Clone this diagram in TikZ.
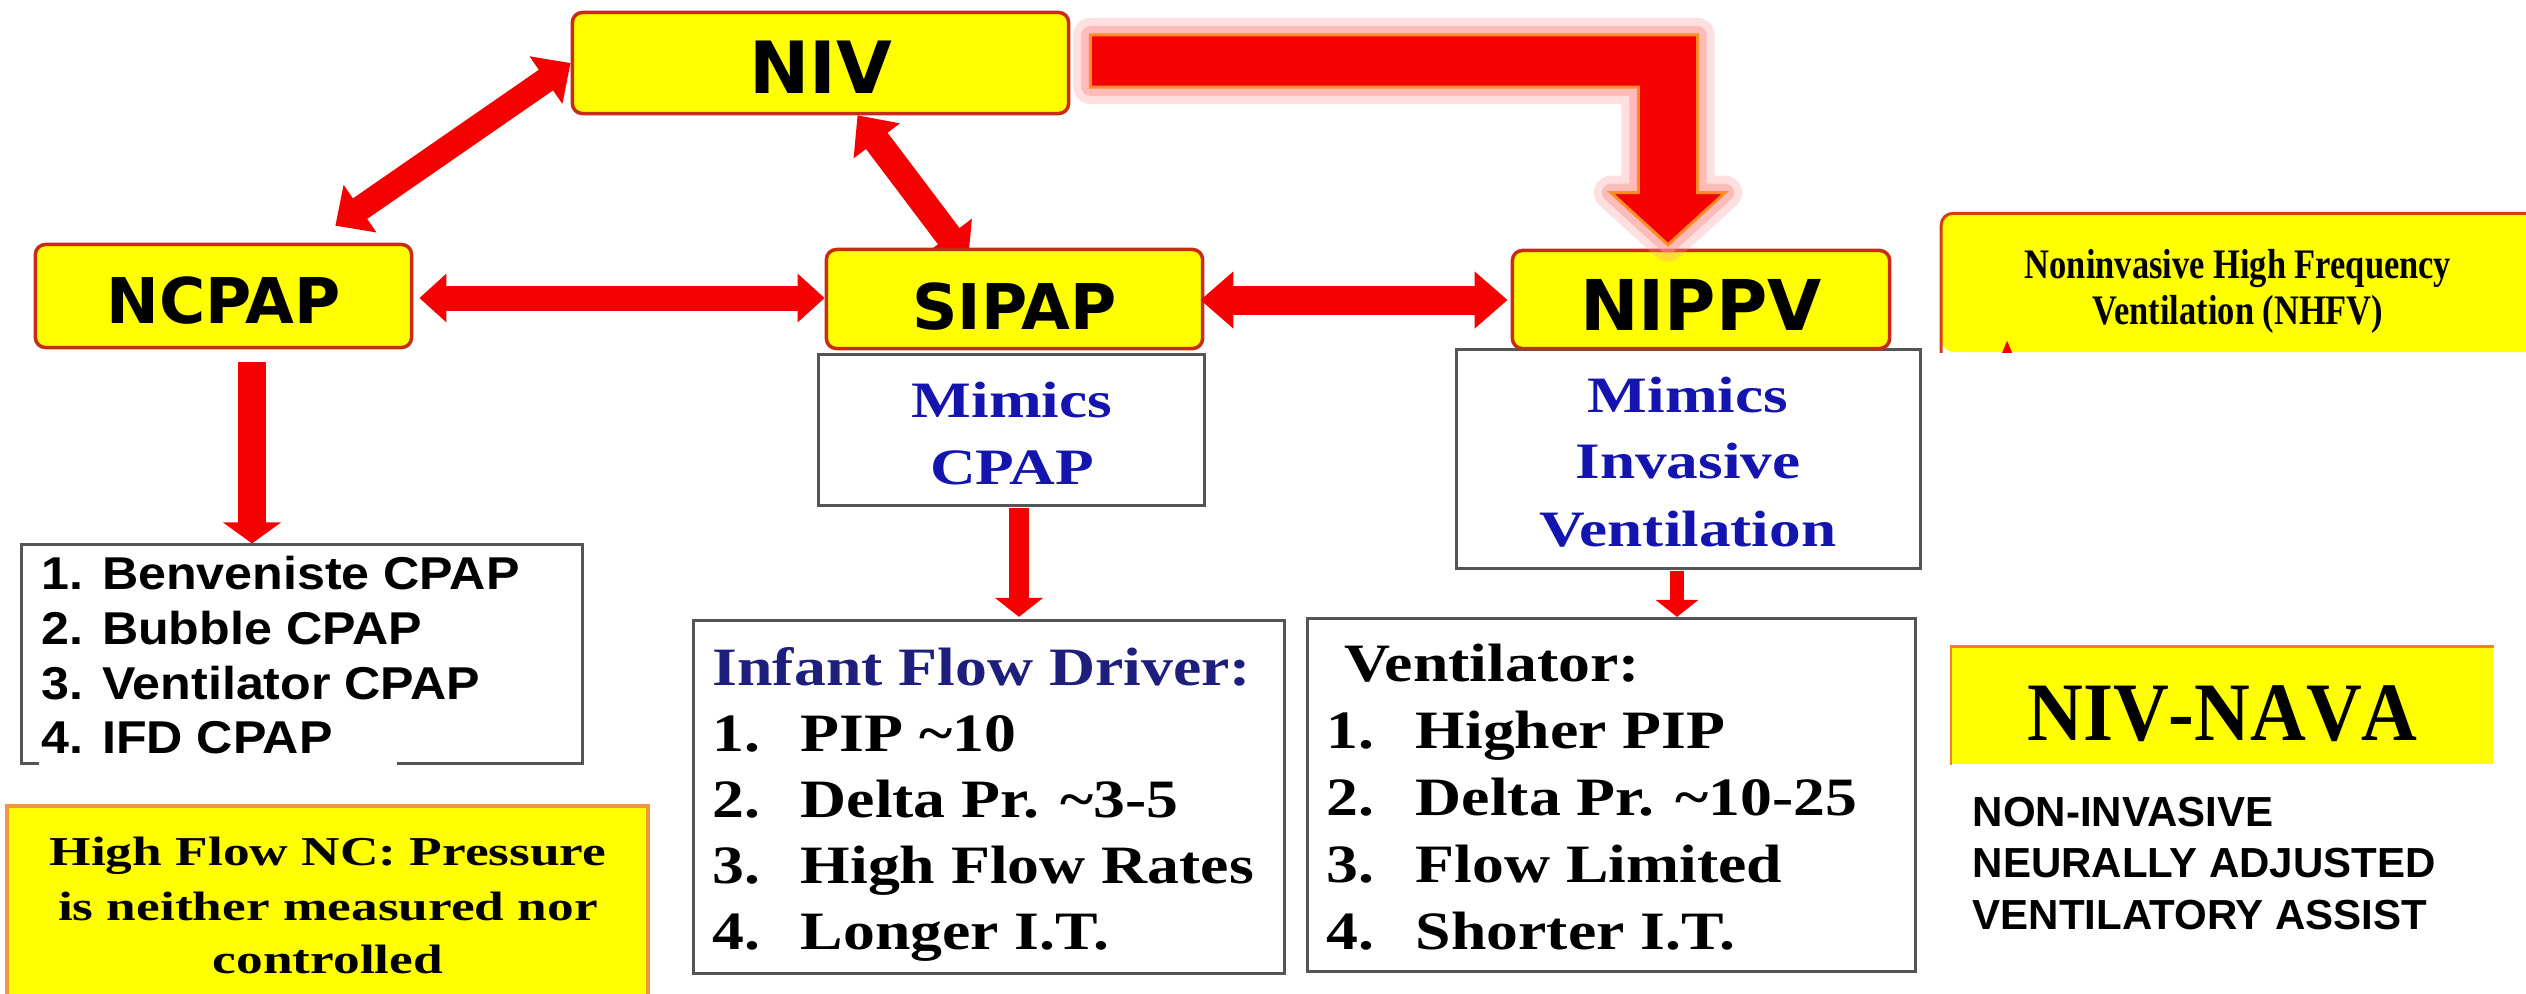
\documentclass[tikz,border=0pt]{standalone}
\usepackage{fontspec}
\setmainfont{Liberation Serif}
\newfontfamily\boxfont{DejaVu Sans}
\newfontfamily\serifwide[FakeStretch=1.18]{Liberation Serif}
\newfontfamily\serifmimic[FakeStretch=1.24]{Liberation Serif}
\newfontfamily\serifhf[FakeStretch=1.30]{Liberation Serif}
\newfontfamily\serifnarrow[FakeStretch=0.82]{Liberation Serif}
\newfontfamily\serifnava[FakeStretch=0.93,Kerning=Off]{Liberation Serif}
\newfontfamily\arialfont[FakeStretch=1.09]{Liberation Sans}
\newfontfamily\arialplain{Liberation Sans}
\usetikzlibrary{arrows.meta,calc}
\pgfdeclarelayer{behind}
\pgfsetlayers{behind,main}

\definecolor{boxyellow}{RGB}{255,255,0}
\definecolor{boxborder}{RGB}{200,45,20}
\definecolor{arrowred}{RGB}{245,0,0}
\definecolor{mimicblue}{RGB}{20,20,175}
\definecolor{navytext}{RGB}{30,30,125}
\definecolor{grayborder}{RGB}{85,85,85}
\definecolor{hfborder}{RGB}{240,150,60}
\definecolor{nhfvborder}{RGB}{215,60,20}
\definecolor{navaborder}{RGB}{240,130,40}
\definecolor{glowpink}{RGB}{255,150,150}
\definecolor{edgeorange}{RGB}{255,140,40}

\newcommand\fBoxNIV{\boxfont\bfseries\fontsize{20.49pt}{24pt}\selectfont}
\newcommand\fBoxMid{\boxfont\bfseries\fontsize{17.93pt}{21pt}\selectfont}
\newcommand\fBoxNIPPV{\boxfont\bfseries\fontsize{19.92pt}{23pt}\selectfont}
\newcommand\fMimic{\serifmimic\bfseries\fontsize{14.51pt}{17pt}\selectfont}
\newcommand\fListSerif{\serifwide\bfseries\fontsize{15.36pt}{18pt}\selectfont}
\newcommand\fHighFlow{\serifhf\bfseries\fontsize{11.67pt}{14pt}\selectfont}
\newcommand\fNHFV{\serifnarrow\bfseries\fontsize{11.95pt}{14pt}\selectfont}
\newcommand\fNAVA{\serifnava\bfseries\fontsize{23.62pt}{28pt}\selectfont}
\newcommand\fListSans{\arialfont\bfseries\fontsize{13.09pt}{16pt}\selectfont}
\newcommand\fNonInv{\arialplain\bfseries\fontsize{11.95pt}{14pt}\selectfont}

\newcommand\elbowpath{let \p1=(elbowstart), \p2=(elbowtip) in
  (\x1,\y1+0.26cm) -- (\x2+0.295cm,\y1+0.26cm) -- (\x2+0.295cm,\y2+0.52cm)
  -- (\x2+0.57cm,\y2+0.52cm) -- (\x2,\y2) -- (\x2-0.57cm,\y2+0.52cm)
  -- (\x2-0.295cm,\y2+0.52cm) -- (\x2-0.295cm,\y1-0.26cm) -- (\x1,\y1-0.26cm) -- cycle}

\tikzset{
  ybox/.style={draw=boxborder, line width=0.035cm, fill=boxyellow, rounded corners=0.1cm, inner sep=0pt, text depth=0pt},
  wbox/.style={draw=grayborder, line width=0.03cm, fill=white, inner sep=0pt},
  txt/.style={inner sep=0pt},
  biarrow/.style n args={3}{draw=arrowred, line width=#1, {Triangle[length=#2,width=#3]}-{Triangle[length=#2,width=#3]}},
  downarrow/.style n args={3}{draw=arrowred, line width=#1, -{Triangle[length=#2,width=#3]}}
}

\begin{document}
\begin{tikzpicture}[x=0.01cm,y=-0.01cm]
\useasboundingbox (0,0) rectangle (2526,993);
\begin{pgfonlayer}{behind}
\fill[white] (0,0) rectangle (2526,993);
\end{pgfonlayer}

% white boxes
\node[wbox, minimum width=3.86cm, minimum height=1.51cm] (mcpap) at (1011.5,430) {};
\node[wbox, minimum width=4.64cm, minimum height=2.19cm] (minv) at (1688.5,459) {};
\node[wbox, minimum width=5.61cm, minimum height=2.18cm] (list) at (302,654) {};
\fill[white] (39,547) rectangle (397,768);
\node[wbox, minimum width=5.91cm, minimum height=3.53cm] (ifd) at (989,797) {};
\node[wbox, minimum width=6.08cm, minimum height=3.53cm] (vent) at (1611.5,795) {};

% yellow boxes
\node[ybox, minimum width=4.96cm, minimum height=1.01cm, text height=0.605cm, font=\fBoxNIV] (niv) at (820.5,63) {NIV};
\node[ybox, minimum width=3.76cm, minimum height=1.03cm, text height=0.54cm, font=\fBoxMid] (ncpap) at (223.5,296) {NCPAP};
\node[ybox, minimum width=3.76cm, minimum height=0.99cm, text height=0.60cm, font=\fBoxMid] (sipap) at (1014.5,299) {SIPAP};
\node[ybox, minimum width=3.77cm, minimum height=0.98cm, text height=0.62cm, font=\fBoxNIPPV] (nippv) at (1701,299.5) {NIPPV};

% NHFV box
\node[fill=boxyellow, rounded corners=0.12cm, minimum width=6.2cm, minimum height=1.38cm, inner sep=0pt] (nhfv) at (2252,283) {};
\draw[nhfvborder, line width=0.03cm, rounded corners=0.12cm] (nhfv.south west) -- (nhfv.north west) -- (nhfv.north east);
\fill[arrowred] ([shift={(61,0)}]nhfv.south west) -- ([shift={(66,-12)}]nhfv.south west) -- ([shift={(71,0)}]nhfv.south west) -- cycle;

% NIV-NAVA box
\node[fill=boxyellow, inner sep=0pt, minimum width=5.41cm, minimum height=1.17cm, text height=0.69cm, text depth=0pt, font=\fNAVA] (nava) at (2222.5,705.5) {NIV-NAVA};
\draw[navaborder, line width=0.025cm] (nava.south west) -- (nava.north west) -- (nava.north east);

% High flow box
\node[fill=boxyellow, draw=hfborder, line width=0.04cm, inner sep=0pt, minimum width=6.41cm, minimum height=2.0cm] (hf) at (327.5,906) {};

% elbow arrow NIV -> NIPPV
\coordinate (elbowstart) at ([shift={(20,-2)}]niv.east);
\coordinate (elbowtip) at ([shift={(-33,-4)}]nippv.north);
\draw[glowpink, opacity=0.3, line width=0.34cm, line join=round] \elbowpath;
\draw[glowpink, opacity=0.5, line width=0.18cm, line join=round] \elbowpath;
\filldraw[fill=arrowred, draw=edgeorange, line width=0.03cm] \elbowpath;

% double arrows
\draw[biarrow={0.25cm}{0.30cm}{0.56cm}] (niv.west) -- ([shift={(-78,-17)}]ncpap.north east);
\begin{pgfonlayer}{behind}
\draw[biarrow={0.27cm}{0.32cm}{0.56cm}] ([shift={(37,0)}]niv.south) -- ([shift={(-46.5,14)}]sipap.north);
\end{pgfonlayer}
\draw[biarrow={0.25cm}{0.27cm}{0.47cm}] ([shift={(6,2)}]ncpap.east) -- ([shift={(0,-1)}]sipap.west);
\draw[biarrow={0.29cm}{0.33cm}{0.55cm}] ([shift={(-4,1)}]sipap.east) -- ([shift={(-3,0.5)}]nippv.west);

% down arrows
\draw[downarrow={0.27cm}{0.21cm}{0.57cm}] ([shift={(28.5,13)}]ncpap.south) -- ([shift={(-50,0)}]list.north);
\draw[downarrow={0.20cm}{0.19cm}{0.47cm}] ([shift={(7.5,1)}]mcpap.south) -- ([shift={(30,-2)}]ifd.north);
\draw[downarrow={0.14cm}{0.17cm}{0.42cm}] ([shift={(-11.5,1)}]minv.south) -- ([shift={(65.5,0)}]vent.north);

% Mimics texts
\node[txt, anchor=base, text=mimicblue, font=\fMimic] (mc1) at (1012,417) {Mimics};
\node[txt, anchor=base, text=mimicblue, font=\fMimic] (mc2) at (1012,484) {CPAP};
\node[txt, anchor=base, text=mimicblue, font=\fMimic] (mi1) at (1688,412) {Mimics};
\node[txt, anchor=base, text=mimicblue, font=\fMimic] (mi2) at (1688,478) {Invasive};
\node[txt, anchor=base, text=mimicblue, font=\fMimic] (mi3) at (1688,546) {Ventilation};

% Infant Flow Driver list
\node[txt, anchor=base west, text=navytext, font=\fListSerif] (ifd0) at (712,685) {Infant Flow Driver:};
\node[txt, anchor=base west, font=\fListSerif] (ifd1) at (712,751) {\makebox[0.88cm][l]{1.}PIP \textasciitilde10};
\node[txt, anchor=base west, font=\fListSerif] (ifd2) at (712,817) {\makebox[0.88cm][l]{2.}Delta Pr. \textasciitilde3-5};
\node[txt, anchor=base west, font=\fListSerif] (ifd3) at (712,883) {\makebox[0.88cm][l]{3.}High Flow Rates};
\node[txt, anchor=base west, font=\fListSerif] (ifd4) at (712,949) {\makebox[0.88cm][l]{4.}Longer I.T.};

% Ventilator list
\node[txt, anchor=base west, font=\fListSerif] (v0) at (1344,681) {Ventilator:};
\node[txt, anchor=base west, font=\fListSerif] (v1) at (1326,748) {\makebox[0.89cm][l]{1.}Higher PIP};
\node[txt, anchor=base west, font=\fListSerif] (v2) at (1326,815) {\makebox[0.89cm][l]{2.}Delta Pr. \textasciitilde10-25};
\node[txt, anchor=base west, font=\fListSerif] (v3) at (1326,882) {\makebox[0.89cm][l]{3.}Flow Limited};
\node[txt, anchor=base west, font=\fListSerif] (v4) at (1326,949) {\makebox[0.89cm][l]{4.}Shorter I.T.};

% NCPAP list
\node[txt, anchor=base west, font=\fListSans] (c1) at (41,589) {1. Benveniste CPAP};
\node[txt, anchor=base west, font=\fListSans] (c2) at (41,644) {2. Bubble CPAP};
\node[txt, anchor=base west, font=\fListSans] (c3) at (41,699) {3. Ventilator CPAP};
\node[txt, anchor=base west, font=\fListSans] (c4) at (41,753) {4. IFD CPAP};

% High flow text
\node[txt, anchor=base, font=\fHighFlow] (hf1) at (328,865) {High Flow NC: Pressure};
\node[txt, anchor=base, font=\fHighFlow] (hf2) at (328,920) {is neither measured nor};
\node[txt, anchor=base, font=\fHighFlow] (hf3) at (328,973) {controlled};

% NHFV text
\node[txt, anchor=base, font=\fNHFV] (nh1) at (2238,278) {Noninvasive High Frequency};
\node[txt, anchor=base, font=\fNHFV] (nh2) at (2238,324) {Ventilation (NHFV)};

% NIV-NAVA description
\node[txt, anchor=base west, font=\fNonInv] (nn1) at (1972,826) {NON-INVASIVE};
\node[txt, anchor=base west, font=\fNonInv] (nn2) at (1972,877) {NEURALLY ADJUSTED};
\node[txt, anchor=base west, font=\fNonInv] (nn3) at (1972,929) {VENTILATORY ASSIST};
\end{tikzpicture}
\end{document}
